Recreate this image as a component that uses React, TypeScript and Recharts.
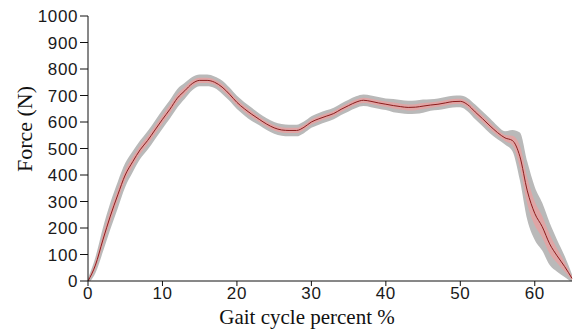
import { ComposedChart, Area, Line, XAxis, YAxis } from 'recharts'

// gait cycle percent (%)
const percent = [
  0, 1, 2, 3, 4, 5, 6, 7, 8, 9, 10, 11, 12, 13, 14, 15, 16, 17, 18, 19, 20, 21, 22,
  23, 24, 25, 26, 27, 28, 29, 30, 31, 32, 33, 34, 35, 36, 37, 38, 39, 40, 41, 42, 43,
  44, 45, 46, 47, 48, 49, 50, 51, 52, 53, 54, 55, 56, 57, 58, 59, 60, 61, 62, 63, 64, 65
]

// mean force (N)
const force = [
  0, 60, 155, 245, 325, 400, 450, 495, 530, 570, 610, 648, 690, 718, 745, 757, 757,
  750, 732, 705, 674, 650, 629, 610, 592, 578, 570, 568, 568, 580, 600, 612, 622, 632,
  648, 662, 675, 682, 678, 672, 667, 662, 658, 655, 656, 660, 664, 667, 672, 677, 678,
  665, 638, 612, 585, 560, 540, 530, 470, 340, 255, 205, 140, 95, 55, 10
]

// spread around the mean (N)
const spread = [
  10, 30, 45, 50, 50, 45, 40, 35, 35, 35, 35, 35, 35, 30, 25, 22, 22, 22, 25, 25, 25,
  25, 25, 22, 22, 22, 22, 22, 22, 22, 22, 22, 22, 22, 22, 22, 22, 22, 22, 22, 22, 25,
  25, 25, 25, 25, 22, 22, 22, 22, 22, 25, 28, 28, 28, 25, 25, 40, 90, 110, 100, 90,
  80, 60, 40, 15
]

const xTicks = [0, 10, 20, 30, 40, 50, 60]
const yTicks = [0, 100, 200, 300, 400, 500, 600, 700, 800, 900, 1000]

const data = percent.map((p, i) => ({
  p,
  force: force[i],
  outer: [force[i] - spread[i], force[i] + spread[i]],
  inner: [force[i] - spread[i] * 0.45, force[i] + spread[i] * 0.45]
}))

const tickStyle = { fontFamily: 'Liberation Sans, Arial, sans-serif', fontSize: 17, fill: '#1a1a1a', letterSpacing: 0.6 }
const serif = 'Liberation Serif, Times New Roman, serif'

export default function App() {
  return (
    <div style={{ position: 'absolute', left: 0, top: 0, background: '#fff' }}>
      <ComposedChart
        width={573}
        height={329}
        data={data}
        margin={{ top: 16, right: 1, bottom: 0, left: 0 }}
      >
        <XAxis
          dataKey="p"
          type="number"
          domain={[0, 65]}
          ticks={xTicks}
          height={48}
          tickSize={5}
          tickMargin={1}
          stroke="#111"
          tick={tickStyle}
          label={{
            value: 'Gait cycle percent %',
            position: 'insideBottom',
            offset: 5,
            dx: -23,
            style: { fontFamily: serif, fontSize: 21, fill: '#111' }
          }}
        />
        <YAxis
          type="number"
          domain={[0, 1000]}
          ticks={yTicks}
          allowDataOverflow
          width={88}
          tickSize={8}
          tickMargin={2}
          stroke="#111"
          tick={tickStyle}
          label={({ viewBox }: any) => {
            const cx = viewBox.x + 24
            const cy = viewBox.y + 113
            return (
              <text
                x={cx}
                y={cy}
                transform={`rotate(-90, ${cx}, ${cy})`}
                textAnchor="middle"
                dominantBaseline="central"
                style={{ fontFamily: serif, fontSize: 22, fill: '#111' }}
              >
                Force (N)
              </text>
            )
          }}
        />
        <Area
          dataKey="outer"
          type="monotone"
          stroke="none"
          fill="#b9b9b9"
          fillOpacity={1}
          isAnimationActive={false}
        />
        <Area
          dataKey="inner"
          type="monotone"
          stroke="none"
          fill="#e3a3a3"
          fillOpacity={0.9}
          isAnimationActive={false}
        />
        <Line
          dataKey="force"
          type="monotone"
          stroke="#8b1c1c"
          strokeWidth={1}
          dot={false}
          isAnimationActive={false}
        />
      </ComposedChart>
    </div>
  )
}
